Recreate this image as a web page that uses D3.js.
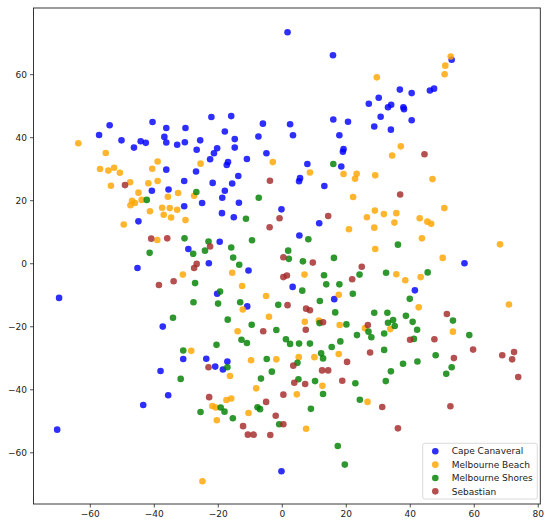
<!DOCTYPE html>
<html>
<head>
<meta charset="utf-8">
<script src="https://cdn.jsdelivr.net/npm/d3@7"></script>
<style>
  body { margin: 0; background: #fff; }
  svg { font-family: "DejaVu Sans", sans-serif; }
</style>
</head>
<body>
<div id="chart"></div>
<script>
var seriesNames = ["Cape Canaveral", "Melbourne Beach", "Melbourne Shores", "Sebastian"];
var seriesColors = ["#0000ff", "#ffa500", "#008000", "#a52a2a"];
var xTicks = [-60, -40, -20, 0, 20, 40, 60, 80];
var yTicks = [-60, -40, -20, 0, 20, 40, 60];

var capeCanaveral = [
  [-53.8,43.8],[-57.1,40.7],[-50.1,39.0],[-40.4,44.8],[-44.1,38.7],[-42.5,38.2],[-46.2,36.7],
  [-36.1,42.9],[-30.1,42.9],[-36.7,40.1],[-36.1,38.3],[-32.7,37.6],[-30.3,38.4],[-25.5,39.0],
  [-26.6,36.0],[-22.0,46.4],[1.8,73.3],[16.0,66.0],[27.2,50.6],[-15.8,46.7],[-5.9,44.3],
  [2.6,44.1],[16.1,45.6],[20.7,44.9],[-17.8,41.8],[-14.7,39.4],[-7.3,40.2],[3.5,40.6],
  [18.0,40.6],[-20.2,36.5],[-14.7,36.7],[19.3,36.2],[53.1,64.6],[46.3,54.8],[47.6,55.4],
  [36.9,55.1],[40.6,54.0],[30.3,52.5],[33.2,49.5],[34.2,50.3],[38.0,49.5],[38.2,48.9],
  [30.9,46.5],[40.6,45.4],[28.9,43.4],[34.1,42.4],[-22.4,33.0],[-36.1,29.7],[-26.8,29.1],
  [-30.5,26.1],[-40.6,23.0],[-35.4,23.4],[-24.9,19.1],[-30.5,18.1],[-44.8,13.3],[-29.2,4.5],
  [-45.1,-1.5],[-21.2,34.9],[-4.8,34.9],[-10.9,33.1],[-16.8,32.1],[-17.2,31.2],[19.1,35.4],
  [18.6,30.7],[8.0,31.5],[-13.6,27.7],[5.7,27.0],[5.4,26.0],[13.3,24.5],[-21.6,25.5],
  [-15.5,25.3],[-17.8,23.0],[-18.6,20.8],[-13.4,19.2],[-0.1,17.1],[-18.7,15.9],[-15.0,14.6],
  [11.7,12.7],[5.5,8.8],[-19.4,6.8],[-22.8,0.0],[-10.4,-2.3],[57.1,0.0],[-69.6,-11.0],
  [-37.2,-20.1],[-30.8,-30.4],[-23.6,-30.3],[-37.9,-34.2],[-20.2,-9.7],[-10.8,-13.7],
  [3.4,-7.5],[16.4,-11.4],[-20.8,-32.8],[-17.0,-31.2],[-18.4,-33.7],[41.6,-8.6],[-0.1,-66.0],
  [-70.2,-52.8],[-43.3,-45.0],[-35.5,-41.9]
];

var melbourneBeach = [
  [-63.6,38.1],[29.7,59.0],[52.8,65.6],[51.1,62.7],[50.9,60.0],[37.2,37.1],[-55.0,35.0],
  [-56.8,29.9],[-54.2,29.4],[-52.4,30.3],[-50.6,28.7],[-38.8,32.3],[-40.5,30.0],[-25.4,31.6],
  [-53.4,24.6],[-47.4,25.7],[-41.7,25.4],[-38.8,26.1],[-32.4,22.3],[-44.8,22.4],[-27.4,21.4],
  [-43.8,20.1],[-46.8,19.8],[-45.9,19.1],[-47.3,18.4],[-35.6,21.1],[-37.4,17.6],[-35.0,17.5],
  [-32.7,17.0],[-41.2,16.5],[-36.9,15.4],[-34.6,14.5],[-30.1,13.7],[-49.4,12.3],[-38.9,7.4],
  [-2.8,32.1],[8.8,28.8],[19.3,28.3],[23.4,28.4],[22.9,26.8],[26.6,14.6],[22.3,21.0],
  [21.0,10.8],[34.5,34.2],[29.2,27.9],[47.1,26.7],[50.8,17.5],[29.1,16.7],[31.9,15.6],
  [35.8,15.9],[35.2,12.9],[28.9,11.3],[43.1,14.3],[45.5,13.2],[46.7,12.5],[43.8,7.9],
  [29.2,4.5],[68.2,6.0],[50.3,1.7],[-30.9,-3.6],[-28.3,-27.8],[-15.5,-3.0],[-12.4,-7.2],
  [-12.2,-14.7],[-4.9,-10.4],[7.1,-3.6],[17.8,-10.0],[-4.0,-17.0],[-13.8,-21.6],[7.2,-18.6],
  [11.6,-18.2],[18.1,-19.6],[26.0,-20.6],[17.8,-28.8],[10.2,-29.8],[5.3,-29.8],[-9.6,-30.8],
  [-1.7,-30.5],[-16.2,-35.8],[12.7,-38.9],[-8.0,-39.7],[26.8,-44.0],[4.7,-41.6],[-10.4,-47.5],
  [7.6,-52.5],[-21.7,-45.3],[-20.6,-45.8],[-17.3,-43.4],[-15.8,-42.9],[-20.3,-49.8],
  [-24.8,-69.2],[35.8,-3.5],[38.6,-5.4],[43.4,-4.4],[42.8,-14.0],[71.0,-13.1],[33.9,-20.9],
  [53.5,-21.7]
];

var melbourneShores = [
  [16.1,31.5],[-26.7,22.6],[-42.2,20.1],[-30.4,7.9],[-27.7,3.0],[-24.0,4.0],[-22.9,6.9],
  [-41.3,3.3],[-7.2,20.8],[-11.2,14.1],[8.3,7.6],[-9.3,7.3],[-15.8,5.0],[-15.2,1.8],
  [-13.3,-0.5],[2.0,4.0],[2.2,1.4],[6.6,0.6],[16.3,1.7],[36.3,5.9],[45.6,-2.9],[-27.1,-6.3],
  [-27.6,-12.4],[-34.0,-17.3],[-30.8,-27.7],[-31.6,-36.7],[-19.3,-9.0],[-19.9,-12.8],
  [-13.0,-12.4],[-1.1,-13.2],[6.4,-8.7],[13.2,-3.8],[13.9,-6.7],[18.0,-6.7],[24.3,-3.6],
  [22.2,-9.7],[11.9,-12.0],[16.7,-15.6],[-16.9,-17.9],[-9.4,-19.5],[-1.7,-21.2],[11.8,-19.0],
  [20.2,-19.4],[27.1,-21.7],[28.0,-23.5],[23.5,-22.8],[18.3,-24.8],[-12.6,-24.3],[-10.9,-25.3],
  [1.3,-24.1],[2.6,-25.6],[5.4,-25.5],[8.8,-25.5],[15.6,-26.6],[-20.4,-25.9],[12.3,-28.6],
  [12.9,-30.2],[4.9,-31.6],[-4.7,-30.4],[-3.1,-34.4],[-17.0,-33.0],[-6.5,-36.6],[5.2,-36.8],
  [10.4,-37.4],[23.0,-38.1],[24.4,-43.3],[12.9,-41.5],[9.1,-46.2],[-7.6,-45.7],[-6.8,-46.3],
  [-0.8,-51.1],[-19.1,-45.8],[-17.9,-47.1],[-15.3,-49.2],[-25.4,-47.2],[17.5,-58.0],
  [19.7,-63.9],[32.6,-3.0],[40.0,-11.3],[28.9,-15.7],[33.0,-15.7],[38.8,-16.7],[53.5,-18.2],
  [34.8,-18.0],[33.2,-18.9],[35.3,-19.9],[40.9,-18.6],[42.3,-21.1],[58.6,-22.8],[32.0,-22.3],
  [41.3,-24.0],[32.0,-27.5],[48.1,-29.2],[37.9,-31.9],[42.4,-31.2],[53.1,-33.0],[34.1,-34.3],
  [51.4,-35.1],[32.5,-37.4]
];

var sebastian = [
  [-49.0,24.8],[-40.8,7.8],[-35.8,7.9],[-22.4,5.3],[-26.6,-0.2],[-27.4,-1.5],[-3.7,26.2],
  [-0.7,14.3],[-3.8,11.4],[14.5,15.0],[0.5,1.9],[9.7,0.2],[25.0,-1.1],[44.6,34.6],[37.0,21.8],
  [-33.8,-5.7],[-38.4,-6.9],[-22.9,-33.0],[0.5,-4.4],[1.6,-3.9],[1.8,-13.3],[22.0,-5.1],
  [7.6,-14.4],[8.8,-14.9],[-5.8,-21.6],[7.5,-21.1],[12.9,-18.7],[26.9,-19.6],[27.6,-28.3],
  [3.6,-32.5],[20.4,-31.3],[12.6,-34.0],[14.5,-34.0],[3.9,-37.9],[7.3,-38.3],[18.9,-37.3],
  [0.5,-41.7],[-4.9,-44.0],[-1.9,-48.4],[0.5,-51.1],[-12.1,-51.7],[-10.6,-54.4],[-8.8,-54.4],
  [-3.6,-54.5],[-22.7,-42.5],[51.6,-16.1],[40.1,-24.3],[47.7,-24.1],[59.8,-27.4],[68.9,-29.2],
  [72.6,-28.2],[72.0,-30.5],[53.8,-30.1],[73.9,-36.1],[31.4,-45.6],[52.7,-45.4],[36.3,-52.4]
];

var allSeries = [capeCanaveral, melbourneBeach, melbourneShores, sebastian];

var width = 550, height = 527;
var margin = {top: 8, right: 10, bottom: 23, left: 33.5};

var svg = d3.select("#chart").append("svg")
    .attr("width", width)
    .attr("height", height);

var x = d3.scaleLinear().domain([-77.6, 80.8]).range([margin.left, width - margin.right + 0.3]);
var y = d3.scaleLinear().domain([-76.4, 81]).range([height - margin.bottom, margin.top]);

// points, one group per town
allSeries.forEach(function(pts, i) {
    svg.append("g")
        .selectAll("circle")
        .data(pts)
        .enter().append("circle")
        .attr("cx", function(d) { return x(d[0]); })
        .attr("cy", function(d) { return y(d[1]); })
        .attr("r", 3.3)
        .style("fill", seriesColors[i])
        .style("opacity", 0.82);
});

// axes
var xAxis = svg.append("g")
    .attr("transform", "translate(0," + (height - margin.bottom) + ")")
    .call(d3.axisBottom(x).tickValues(xTicks).tickSize(3.5).tickPadding(3));
var yAxis = svg.append("g")
    .attr("transform", "translate(" + margin.left + ",0)")
    .call(d3.axisLeft(y).tickValues(yTicks).tickSize(3.5).tickPadding(3));

[xAxis, yAxis].forEach(function(a) {
    a.select(".domain").remove();
    a.selectAll("line").attr("stroke", "#222").attr("stroke-width", 0.8);
    a.selectAll("text").attr("fill", "#222").style("font-size", "9px").style("font-family", "DejaVu Sans");
});

// frame
svg.append("rect")
    .attr("x", x.range()[0])
    .attr("y", y.range()[1])
    .attr("width", x.range()[1] - x.range()[0])
    .attr("height", y.range()[0] - y.range()[1])
    .attr("fill", "none")
    .attr("stroke", "#222")
    .attr("stroke-width", 0.9);

// legend
var legend = svg.append("g").attr("transform", "translate(422.7,443.3)");
legend.append("rect")
    .attr("width", 114.6)
    .attr("height", 55.7)
    .attr("rx", 2)
    .attr("fill", "#fff")
    .attr("fill-opacity", 0.8)
    .attr("stroke", "#d0d0d0")
    .attr("stroke-width", 0.8);

var legendElements = legend.selectAll("g.item")
    .data(seriesNames)
    .enter().append("g")
    .attr("class", "item")
    .attr("transform", function(d, i) { return "translate(0," + (8 + i * 13.35) + ")"; });

legendElements.append("circle")
    .attr("cx", 12.6)
    .attr("cy", 0)
    .attr("r", 3.3)
    .style("fill", function(d, i) { return seriesColors[i]; })
    .style("opacity", 0.82);

legendElements.append("text")
    .attr("x", 29)
    .attr("y", 0)
    .attr("dy", "0.35em")
    .style("font-size", "9px")
    .attr("fill", "#222")
    .text(function(d) { return d; });
</script>
</body>
</html>
